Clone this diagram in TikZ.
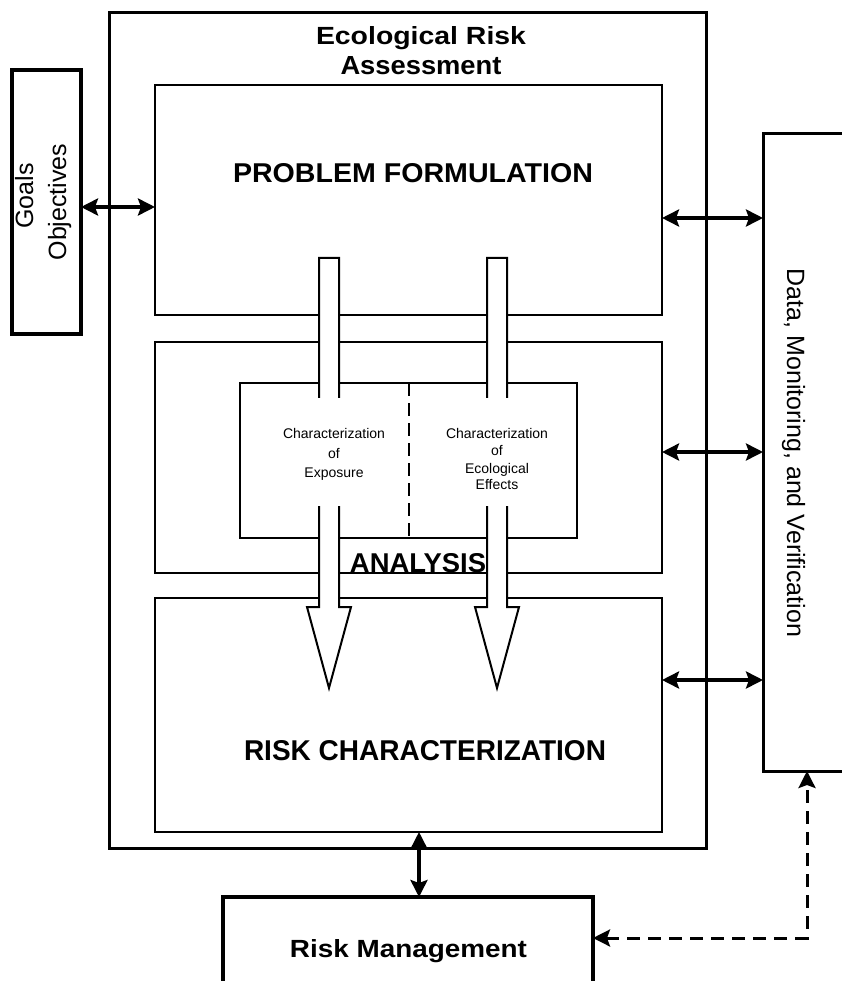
\documentclass[tikz,border=0pt]{standalone}
\usepackage{fontspec}
\setmainfont{Liberation Sans}
\usepackage{graphicx}
\usetikzlibrary{arrows.meta}
\begin{document}
\begin{tikzpicture}[x=1pt,y=-1pt,
  box/.style={draw=black, inner sep=0pt, outer sep=0pt},
  tipk/.tip={Stealth[length=17pt,width=17pt,inset=3pt]},
  conn/.style={line width=3.5pt, tipk-tipk},
  dconn/.style={conn, line width=3pt, dash pattern=on 13pt off 8pt},
  bigarrow/.style={fill=white, draw=black, line width=2pt, line join=miter},
  bold/.style={inner sep=0pt, anchor=base, font=\fontsize{25}{30}\selectfont\bfseries},
  lbl/.style={inner sep=0pt, anchor=base, font=\fontsize{25}{30}\selectfont},
  small/.style={inner sep=0pt, anchor=base, font=\fontsize{14}{17}\selectfont}]
\clip (0,0) rectangle (842,981);
\fill[white] (0,0) rectangle (842,981);

% boxes
\node[box, line width=3pt, minimum width=597pt, minimum height=835pt] (era) at (407.5,430.5) {};
\node[box, line width=2.5pt, minimum width=507pt, minimum height=230pt] (pf) at (408.5,200) {};
\node[box, line width=2.5pt, minimum width=507pt, minimum height=231pt] (an) at (408.5,457.5) {};
\node[box, line width=2.5pt, minimum width=507pt, minimum height=234pt] (rc) at (408.5,715) {};
\node[box, line width=2pt, minimum width=337pt, minimum height=155pt] (ch) at (408.5,460.5) {};
\draw[line width=2pt, dash pattern=on 13pt off 7pt] (ch.north) -- (ch.south);
\node[box, line width=3.5pt, minimum width=69pt, minimum height=264pt] (goals) at (46.5,202) {};
\node[box, line width=3pt, minimum width=137pt, minimum height=637pt] (data) at (831.5,452.5) {};
\node[box, line width=4pt, minimum width=370pt, minimum height=113pt] (rm) at (408,953.5) {};

% connectors
\coordinate (yA) at (0,207);
\coordinate (yB) at (0,218);
\coordinate (yC) at (0,452);
\coordinate (yD) at (0,680);
\coordinate (xV) at (419,0);
\coordinate (dd) at (807,938);
\draw[conn] (goals.east |- yA) -- (pf.west |- yA);
\draw[conn] (pf.east |- yB) -- (data.west |- yB);
\draw[conn] (an.east |- yC) -- (data.west |- yC);
\draw[conn] (rc.east |- yD) -- (data.west |- yD);
\draw[conn] (rc.south -| xV) -- (rm.north -| xV);
\draw[dconn] (rm.east |- dd) -| (data.south -| dd);

% big hollow arrows
\path[bigarrow] (319,258) -- (339,258) -- (339,607) -- (351,607) -- (329,688) -- (307,607) -- (319,607) -- cycle;
\path[bigarrow] (487,258) -- (507,258) -- (507,607) -- (519,607) -- (497,688) -- (475,607) -- (487,607) -- cycle;
\fill[white] (316,398) rectangle (342,506);
\fill[white] (484,398) rectangle (510,506);

% texts
\node[bold] (t1) at (421,45) {\resizebox{210pt}{18pt}{Ecological Risk}};
\node[bold] (t2) at (421,75) {\resizebox{161pt}{18pt}{Assessment}};
\node[bold] (tpf) at (413,183) {\resizebox{360pt}{19pt}{PROBLEM FORMULATION}};
\node[bold] (tan) at (418,572) {\resizebox{136pt}{19pt}{ANALYSIS}};
\node[bold] (trc) at (425,760) {\resizebox{362pt}{20pt}{RISK CHARACTERIZATION}};
\node[bold] (trm) at (408.5,957) {\resizebox{237pt}{18pt}{Risk Management}};

\node[lbl, rotate=90] (tg1) at (33,196) {Goals};
\node[lbl, rotate=90] (tg2) at (66,202) {Objectives};
\node[lbl, rotate=-90] (td) at (787,453) {Data, Monitoring, and Verification};

\node[small] (e1) at (334,438) {Characterization};
\node[small] (e2) at (334,458) {of};
\node[small] (e3) at (334,477) {Exposure};
\node[small] (f1) at (497,438) {Characterization};
\node[small] (f2) at (497,455) {of};
\node[small] (f3) at (497,473) {Ecological};
\node[small] (f4) at (497,489) {Effects};
\end{tikzpicture}
\end{document}
